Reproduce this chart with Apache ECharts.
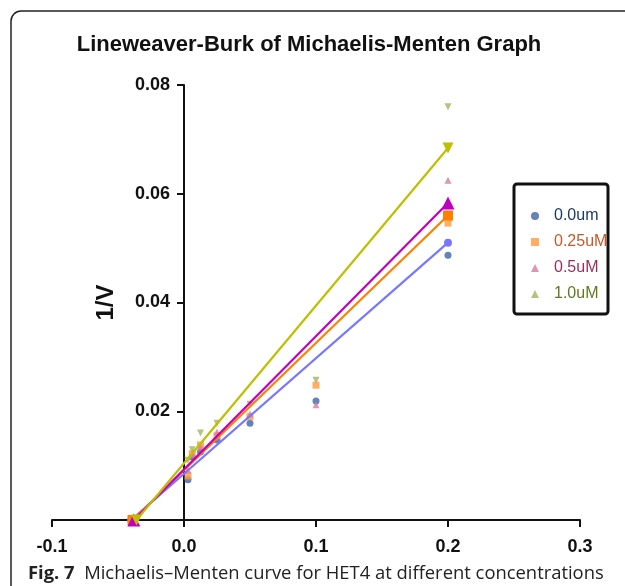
<!DOCTYPE html>
<html>
<head>
<meta charset="utf-8">
<script src="https://cdn.jsdelivr.net/npm/echarts@6/dist/echarts.min.js"></script>
<style>
  html, body { margin: 0; padding: 0; background: #fff; }
  #chart { width: 625px; height: 586px; }
</style>
</head>
<body>
<div id="chart"></div>
<script>
// 1/[S] values and 1/V readings for each concentration
const xs = [0.2, 0.1, 0.05, 0.025, 0.0125, 0.00625, 0.003];
const names = ['0.0um', '0.25uM', '0.5uM', '1.0uM'];
const v00 = [0.0487, 0.0219, 0.0178, 0.0147, 0.0125, 0.0116, 0.0074];
const v025 = [0.0546, 0.0248, 0.0190, 0.0155, 0.0138, 0.0122, 0.0081];
const v05 = [0.0625, 0.0212, 0.0195, 0.0162, 0.0134, 0.0120, 0.0092];
const v10 = [0.0760, 0.0257, 0.0213, 0.0178, 0.0160, 0.0129, 0.0110];
// fitted lines: x intercept and 1/V at x = 0.2
const fitStart = [-0.040, -0.039, -0.038, -0.036];
const fitEnd = [0.0510, 0.0560, 0.0583, 0.0684];
const fitEndX = 0.2;
const xTicks = [-0.1, 0.0, 0.1, 0.2, 0.3];

const values = [v00, v025, v05, v10];
const dotColors = ['#3c64a8', '#ff9a3c', '#d87a9c', '#a9b062'];
const textColors = ['#1f3864', '#c55a2a', '#9b2d5a', '#5e7a1e'];
const lineColors = ['#7777ff', '#ff7f00', '#c000c0', '#bfbf00'];
const symbols = ['circle', 'rect', 'triangle', 'triangle'];
const rotates = [0, 0, 0, 180];
const fitSizes = [8, 10, 13, 11];

const sans = "'Liberation Sans', Arial, sans-serif";

let chart = echarts.init(document.getElementById('chart'));

let series = [];
names.forEach(function (n, i) {
  series.push({
    name: n,
    type: 'scatter',
    data: xs.map(function (x, k) { return [x, values[i][k]]; }),
    symbol: symbols[i],
    symbolRotate: rotates[i],
    symbolSize: 7,
    itemStyle: { color: dotColors[i] },
    z: 2
  });
});
names.forEach(function (n, i) {
  series.push({
    type: 'line',
    data: [[fitStart[i], 0], [fitEndX, fitEnd[i]]],
    symbol: symbols[i],
    symbolRotate: rotates[i],
    symbolSize: fitSizes[i],
    showSymbol: true,
    lineStyle: { color: lineColors[i], width: 2.2 },
    itemStyle: { color: lineColors[i] },
    z: 3
  });
});

let option = {
  backgroundColor: '#fff',
  animation: false,
  title: {
    text: 'Lineweaver-Burk of Michaelis-Menten Graph',
    left: 304,
    top: 29,
    textAlign: 'center',
    textStyle: { fontFamily: sans, fontSize: 22, fontWeight: 'bold', color: '#111' }
  },
  grid: { left: 52, right: 45, top: 85, bottom: 66, outerBoundsMode: 'none' },
  legend: {
    orient: 'vertical',
    left: 526,
    top: 203,
    itemWidth: 8,
    itemHeight: 8,
    itemGap: 10,
    data: names.map(function (n, i) {
      return { name: n, textStyle: { color: textColors[i] } };
    }),
    textStyle: { fontFamily: sans, fontSize: 16, padding: [0, 0, 0, 10] }
  },
  xAxis: {
    type: 'value',
    min: xTicks[0],
    max: xTicks[xTicks.length - 1],
    interval: 0.1,
    splitLine: { show: false },
    axisLine: { onZero: false, lineStyle: { color: '#111', width: 2 } },
    axisTick: { length: 7, lineStyle: { color: '#111', width: 2 } },
    axisLabel: {
      margin: 18,
      fontFamily: sans, fontSize: 18, fontWeight: 'bold', color: '#111',
      formatter: function (v) { return v.toFixed(1); }
    }
  },
  yAxis: {
    type: 'value',
    min: 0,
    max: 0.08,
    interval: 0.02,
    offset: -132,
    name: '1/V',
    nameLocation: 'middle',
    nameGap: 66,
    nameTextStyle: { fontFamily: sans, fontSize: 24, fontWeight: 'bold', color: '#111' },
    splitLine: { show: false },
    axisLine: { onZero: false, lineStyle: { color: '#111', width: 2 } },
    axisTick: { length: 7, lineStyle: { color: '#111', width: 2 } },
    axisLabel: {
      margin: 14,
      fontFamily: sans, fontSize: 18, fontWeight: 'bold', color: '#111',
      formatter: function (v) { return v === 0 ? '' : v.toFixed(2); }
    }
  },
  graphic: [
    {
      type: 'rect',
      shape: { x: 11, y: 11, width: 700, height: 700, r: 10 },
      style: { fill: null, stroke: '#222', lineWidth: 1.5 },
      silent: true
    },
    {
      type: 'rect',
      shape: { x: 514, y: 184, width: 94, height: 130, r: 3 },
      style: { fill: null, stroke: '#111', lineWidth: 3 },
      silent: true
    },
    {
      type: 'text',
      left: 28,
      top: 565,
      style: {
        text: '{b|Fig. 7}  Michaelis–Menten curve for HET4 at different concentrations',
        fontFamily: "'Open Sans', 'Noto Sans', sans-serif",
        fontSize: 18.4,
        fill: '#222',
        rich: {
          b: { fontFamily: "'Open Sans', 'Noto Sans', sans-serif", fontSize: 18.4, fontWeight: 'bold', fill: '#222' }
        }
      }
    }
  ],
  series: series
};

chart.setOption(option);
</script>
</body>
</html>
